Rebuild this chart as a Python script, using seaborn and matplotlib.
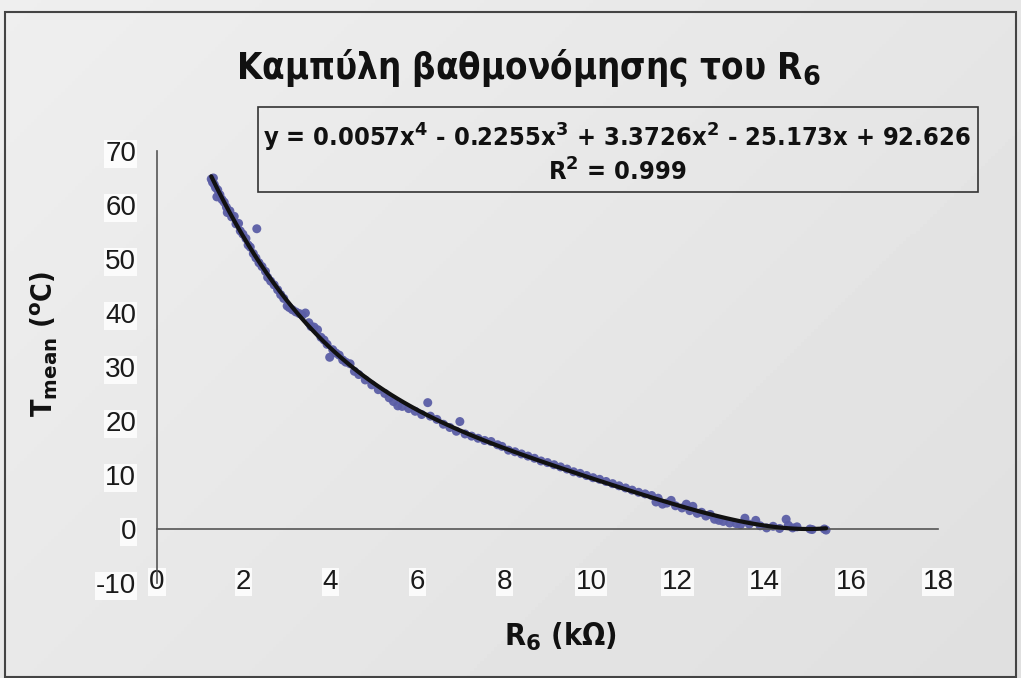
import numpy as np
import pandas as pd
import matplotlib
matplotlib.use("Agg")
import matplotlib.pyplot as plt
import seaborn as sns
from matplotlib.patches import Rectangle

# ---- data ----
R6 = [1.25, 1.28, 1.30, 1.32, 1.35, 1.38, 1.40, 1.45, 1.50, 1.55, 1.60, 1.62, 1.68, 1.72,
      1.78, 1.82, 1.88, 1.92, 1.98, 2.05, 2.10, 2.15, 2.22, 2.30, 2.28, 2.35, 2.42, 2.50,
      2.55, 2.62, 2.70, 2.78, 2.85, 2.92, 3.00, 3.05, 3.12, 3.20, 3.28, 3.35, 3.42, 3.50,
      3.55, 3.62, 3.70, 3.78, 3.85, 3.92, 3.98, 4.05, 4.12, 4.20, 4.28, 4.35, 4.45, 4.55,
      4.65, 4.80, 4.95, 5.10, 5.25, 5.35, 5.45, 5.55, 5.65, 5.80, 5.95, 6.10, 6.24, 6.30,
      6.45, 6.60, 6.75, 6.90, 6.98, 7.10, 7.25, 7.40, 7.55, 7.70, 7.85, 7.95, 8.10, 8.25,
      8.40, 8.55, 8.70, 8.85, 9.00, 9.15, 9.30, 9.45, 9.60, 9.75, 9.90, 10.05, 10.20, 10.35,
      10.50, 10.65, 10.80, 10.95, 11.10, 11.25, 11.40, 11.50, 11.55, 11.65, 11.75, 11.85,
      11.95, 12.10, 12.20, 12.28, 12.35, 12.45, 12.55, 12.65, 12.75, 12.85, 12.95, 13.05,
      13.20, 13.35, 13.45, 13.55, 13.65, 13.80, 13.90, 14.05, 14.20, 14.35, 14.50, 14.55,
      14.65, 14.75, 15.05, 15.10, 15.38, 15.42]
T_mean = [64.8, 64.2, 65.0, 63.8, 63.2, 61.5, 62.8, 61.9, 61.0, 60.5, 59.6, 58.6, 58.9, 57.8,
          57.9, 56.5, 56.6, 55.2, 54.6, 53.8, 52.6, 52.2, 51.0, 55.6, 50.2, 49.3, 48.6, 47.7,
          46.6, 45.9, 45.2, 44.3, 43.4, 42.7, 41.3, 41.0, 40.6, 40.2, 39.9, 39.6, 40.0, 38.2,
          37.5, 37.4, 36.9, 35.5, 35.0, 34.2, 31.8, 33.2, 32.6, 32.2, 31.3, 30.9, 30.6, 29.2,
          28.6, 27.6, 26.7, 25.8, 25.1, 24.3, 23.6, 22.8, 22.7, 22.3, 21.8, 21.2, 23.4, 20.9,
          20.3, 19.4, 18.8, 18.1, 19.9, 17.6, 17.2, 16.8, 16.4, 16.2, 15.6, 15.3, 14.6, 14.3,
          13.9, 13.5, 13.1, 12.6, 12.3, 11.9, 11.5, 11.1, 10.6, 10.3, 9.9, 9.5, 9.2, 8.8,
          8.4, 8.0, 7.6, 7.2, 6.8, 6.5, 6.2, 5.0, 5.7, 4.6, 4.8, 5.3,
          4.3, 3.9, 4.6, 3.4, 4.2, 2.9, 3.1, 2.4, 2.7, 1.8, 1.6, 1.4,
          1.1, 1.0, 0.8, 2.0, 0.9, 1.6, 0.6, 0.2, 0.5, 0.1, 1.8, 0.7,
          0.2, 0.4, 0.0, -0.1, 0.0, -0.2]

x_ticks = [0, 2, 4, 6, 8, 10, 12, 14, 16, 18]
y_ticks = [-10, 0, 10, 20, 30, 40, 50, 60, 70]

title_text = "Καμπύλη βαθμονόμησης του R$_\\mathbf{6}$"
equation_text = ("y = 0.0057x$^\\mathbf{4}$ - 0.2255x$^\\mathbf{3}$ + 3.3726x$^\\mathbf{2}$"
                 " - 25.173x + 92.626\nR$^\\mathbf{2}$ = 0.999")
x_label = "R$_\\mathbf{6}$ (kΩ)"
y_label = "T$_\\mathbf{mean}$ ($^\\mathbf{o}$C)"

df = pd.DataFrame({"R6": R6, "T": T_mean})

# ---- style ----
sns.set_style("white")
plt.rcParams["font.family"] = ["DejaVu Sans"]
plt.rcParams["axes.unicode_minus"] = False
plt.rcParams["mathtext.fontset"] = "dejavusans"

W, H = 1021, 678
fig = plt.figure(figsize=(W / 100, H / 100), dpi=100)

# background gradient
bg = fig.add_axes([0, 0, 1, 1], zorder=-10)
gy, gx = np.mgrid[0:1:200j, 0:1:300j]
grad = 0.935 - 0.06 * (0.6 * gx + 0.4 * gy)
bg.imshow(grad, cmap="gray", vmin=0, vmax=1, aspect="auto", extent=[0, 1, 0, 1], origin="upper")
bg.set_xlim(0, 1); bg.set_ylim(0, 1)
bg.axis("off")
fig.patches.append(Rectangle((5 / W, 0.002), 1011 / W, 1 - 12 / H - 0.002,
                             transform=fig.transFigure, fill=False,
                             edgecolor="#444444", lw=1.5))

ax = fig.add_axes([157 / W, 1 - 583 / H, (938 - 157) / W, (583 - 151) / H])
ax.patch.set_alpha(0)

sns.regplot(data=df, x="R6", y="T", order=4, ci=None, ax=ax,
            scatter_kws=dict(s=42, color="#5b5ea6", edgecolor="none", alpha=0.95, zorder=2),
            line_kws=dict(color="#111111", lw=3, zorder=3))

ax.set_xlim(0, 18)
ax.set_ylim(-10, 70)
ax.set_xticks(x_ticks)
ax.set_yticks(y_ticks)
ax.set_xlabel("")
ax.set_ylabel("")

for s in ["top", "right"]:
    ax.spines[s].set_visible(False)
ax.spines["bottom"].set_position(("data", 0))
for s in ["bottom", "left"]:
    ax.spines[s].set_color("#555555")
    ax.spines[s].set_linewidth(1.2)

ax.tick_params(axis="y", direction="out", length=7, width=1, colors="#555555",
               labelcolor="#1a1a1a", labelsize=20, pad=8)
ax.tick_params(axis="x", direction="out", length=5, width=1, colors="#555555",
               labelcolor="#1a1a1a", labelsize=20, pad=24)
for lbl in ax.get_xticklabels() + ax.get_yticklabels():
    lbl.set_fontfamily("Liberation Sans")
    lbl.set_bbox(dict(facecolor="white", edgecolor="none", pad=0.5, alpha=0.85))

cond = dict(family="DejaVu Sans", fontstretch="condensed", fontweight="bold", color="#111111")
fig.text(528 / W, 1 - 68 / H, title_text, ha="center", va="center", fontsize=26.3, **cond)
fig.text(560 / W, 1 - 637 / H, x_label, ha="center", va="center", fontsize=22, **cond)
fig.text(44 / W, 1 - 344 / H, y_label, ha="center", va="center", rotation=90,
         fontsize=20.5, **cond)

fig.patches.append(Rectangle((258 / W, 1 - 192 / H), 720 / W, 85 / H,
                             transform=fig.transFigure, fill=False,
                             edgecolor="#333333", lw=1.2))
fig.text(617 / W, 1 - 154 / H, equation_text, ha="center", va="center",
         fontsize=18.3, linespacing=1.2, **cond)

fig.savefig("out.png", dpi=100)
